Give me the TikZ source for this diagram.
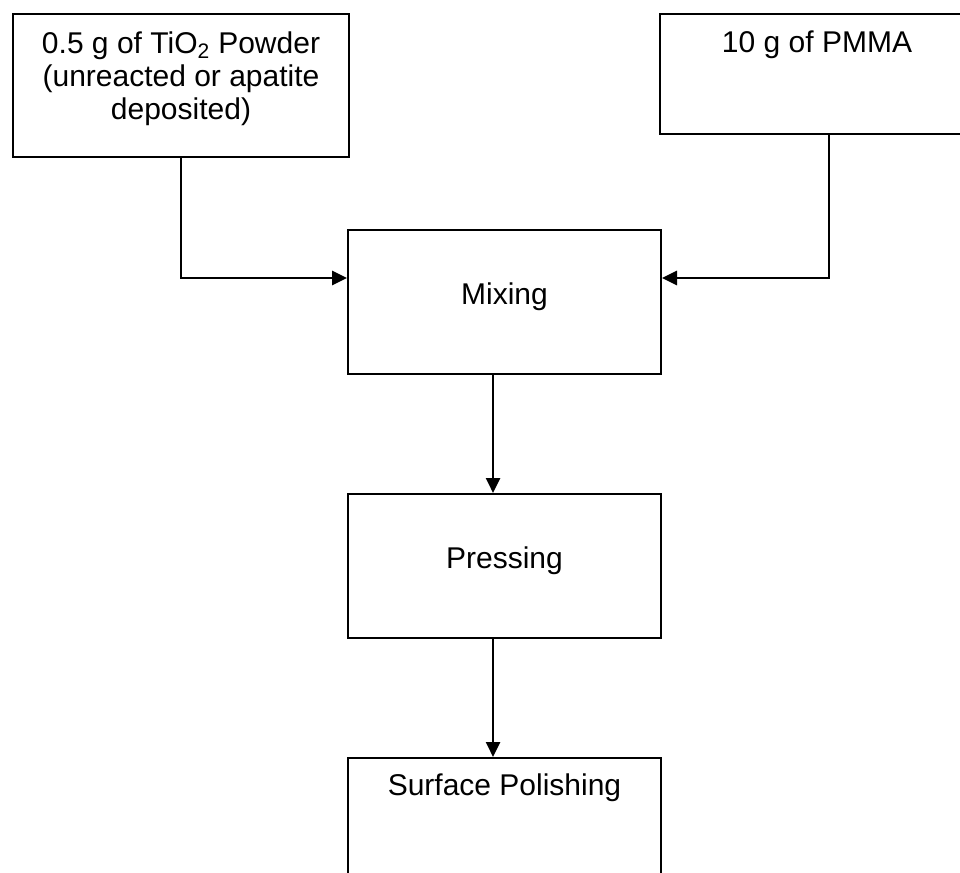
\documentclass[tikz,border=0pt]{standalone}
\usepackage{fontspec}
\setmainfont{Liberation Sans}
\usetikzlibrary{arrows.meta}

\begin{document}
\begin{tikzpicture}[x=0.75pt, y=-0.75pt,
        stage/.style={draw, line width=1.5pt, inner sep=0pt, anchor=north west,
            minimum width=234.75pt, minimum height=108pt},
        stagetext/.style={font=\fontsize{22.5}{24.75}\selectfont, inner sep=0pt,
            align=center, anchor=base},
        flow/.style={line width=2pt, -{Triangle[length=11.25pt, width=10.5pt]}}]
        \useasboundingbox (0,0) rectangle (960,872);
        % boxes
        \node[stage, minimum width=252pt, minimum height=107.25pt] (tio2) at (12,13) {};
        \node[stage, minimum width=235.5pt, minimum height=90pt] (pmma) at (659,13) {};
        \node[stage] (mix) at (347,229) {};
        \node[stage] (press) at (347,493) {};
        \node[stage] (polish) at (347,757) {};
        % texts
        \node[stagetext, anchor=north] (tio2txt) at ([yshift=-13.5pt]tio2.north)
            {0.5 g of TiO\textsubscript{2} Powder\\(unreacted or apatite\\deposited)};
        \node[stagetext] (pmmatxt) at ([yshift=-29.25pt]pmma.north) {10 g of PMMA};
        \node[stagetext] (mixtxt) at ([yshift=-56.25pt]mix.north) {Mixing};
        \node[stagetext] (presstxt) at ([yshift=-56.25pt]press.north) {Pressing};
        \node[stagetext] (polishtxt) at ([yshift=-28.5pt]polish.north) {Surface Polishing};
        % arrows
        \draw[flow] (tio2.south) |- ([yshift=18pt]mix.west);
        \draw[flow] ([xshift=9pt]pmma.south) |- ([yshift=18pt]mix.east);
        \draw[flow] ([xshift=-8.6pt]mix.south) -- ([xshift=-8.6pt]press.north);
        \draw[flow] ([xshift=-8.6pt]press.south) -- ([xshift=-8.6pt]polish.north);
    \end{tikzpicture}
\end{document}
